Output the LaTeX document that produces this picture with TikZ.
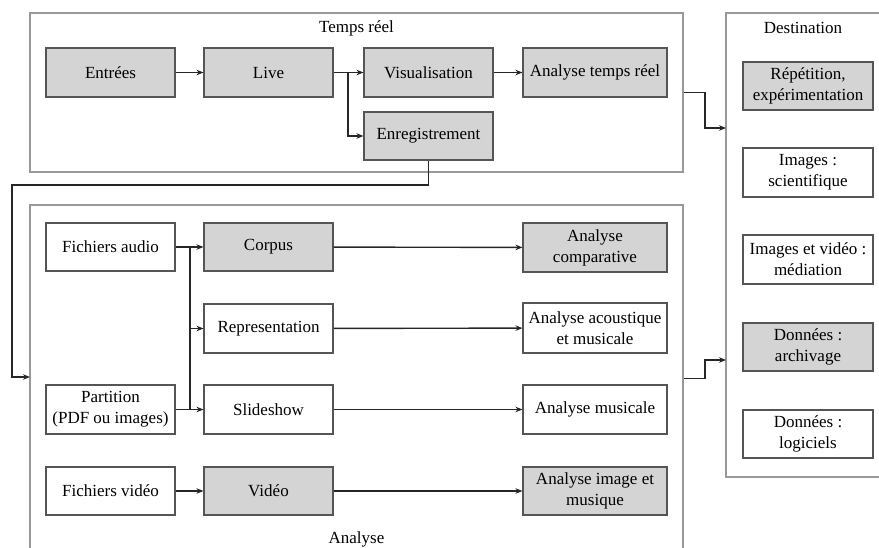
\documentclass[tikz,border=0pt]{standalone}
\usepackage{fontspec}
\setmainfont{Liberation Serif}
\newfontfamily\diagfont{Liberation Serif}
\usetikzlibrary{arrows.meta}
\definecolor{boxfill}{HTML}{D4D4D4}
\definecolor{boxline}{HTML}{555555}
\definecolor{frameline}{HTML}{999999}
\tikzset{
  every node/.style={font=\diagfont\fontsize{17}{21}\selectfont},
  box/.style={draw=boxline, line width=1.1pt, rectangle, align=center, inner sep=0pt},
  wbox/.style={box, fill=white},
  gbox/.style={box, fill=boxfill},
  frm/.style={draw=frameline, line width=1.1pt, rectangle, inner sep=0pt},
  conn/.style={draw=black!85, line width=1.4pt},
  arr/.style={conn, -{Stealth[length=7pt,width=5.5pt]}},
}
\begin{document}
\begin{tikzpicture}[x=1pt,y=-1pt]
\useasboundingbox (0,0) rectangle (879,547);
% frames
\node[frm, minimum width=653, minimum height=159] (trframe) at (356.5,92.5) {};
\node[frm, minimum width=653, minimum height=347] (anframe) at (356.5,378.5) {};
\node[frm, minimum width=164, minimum height=464] (dframe) at (808,245) {};
\node (trtitle) at (356.5,28) {Temps réel};
\node (antitle) at (356.5,539) {Analyse};
\node (dtitle) at (803,28) {Destination};
% Temps reel
\node[gbox, minimum width=129, minimum height=49] (entrees) at (110.5,72.5) {Entrées};
\node[gbox, minimum width=129, minimum height=49] (live) at (268.5,72.5) {Live};
\node[gbox, minimum width=129, minimum height=49] (visu) at (428.5,72.5) {Visualisation};
\node[gbox, minimum width=144, minimum height=49] (atr) at (595,72.5) {Analyse temps réel};
\node[gbox, minimum width=129, minimum height=48] (enreg) at (428.5,136) {Enregistrement};
% Analyse
\node[wbox, minimum width=129, minimum height=48] (faudio) at (110.5,247) {Fichiers audio};
\node[gbox, minimum width=129, minimum height=48] (corpus) at (268.5,247) {Corpus};
\node[gbox, minimum width=144, minimum height=49] (acomp) at (595,247.5) {Analyse\\comparative};
\node[wbox, minimum width=129, minimum height=49] (repr) at (268.5,328.5) {Representation};
\node[wbox, minimum width=144, minimum height=50] (aacou) at (595,328) {Analyse acoustique\\et musicale};
\node[wbox, minimum width=129, minimum height=49] (part) at (110.5,409.5) {Partition\\(PDF ou images)};
\node[wbox, minimum width=129, minimum height=49] (slide) at (268.5,409.5) {Slideshow};
\node[wbox, minimum width=144, minimum height=49] (amus) at (595,409.5) {Analyse musicale};
\node[wbox, minimum width=129, minimum height=48] (fvideo) at (110.5,491) {Fichiers vidéo};
\node[gbox, minimum width=129, minimum height=48] (video) at (268.5,491) {Vidéo};
\node[gbox, minimum width=144, minimum height=48] (aimg) at (595,491) {Analyse image et\\musique};
% Destination
\node[gbox, minimum width=130, minimum height=48] (rep) at (808,86) {Répétition,\\expérimentation};
\node[wbox, minimum width=130, minimum height=49] (isci) at (808,172.5) {Images :\\scientifique};
\node[wbox, minimum width=130, minimum height=49] (imed) at (808,259.5) {Images et vidéo :\\médiation};
\node[gbox, minimum width=130, minimum height=48] (darch) at (808,347) {Données :\\archivage};
\node[wbox, minimum width=130, minimum height=48] (dlog) at (808,434) {Données :\\logiciels};
% coordinates
\coordinate (destA) at (726,128);
\coordinate (destB) at (726,360);
\coordinate (anL) at (30,377);
\coordinate (brA) at (348,136);
\coordinate (brB) at (190,247);
\coordinate (brC) at (190,328.5);
\coordinate (brD) at (190,409.5);
% connectors temps reel
\draw[arr] (entrees) -- (live);
\draw[arr] (live) -- (visu);
\draw[arr] (visu) -- (atr);
\draw[arr] (live.east) -| (brA) -- (enreg.west);
\draw[arr] (trframe.east) -| (705,128) -- (destA);
\draw[arr] (enreg.south) |- (12,185) |- (anL);
% analyse
\draw[arr] (faudio) -- (corpus);
\draw[conn] (brB) -- (brD);
\draw[arr] (brC) -- (repr.west);
\draw[arr] (part) -- (slide);
\draw[arr] (corpus) -- (acomp);
\draw[arr] (repr) -- (aacou);
\draw[arr] (slide) -- (amus);
\draw[arr] (fvideo) -- (video);
\draw[arr] (video) -- (aimg);
\draw[arr] (anframe.east) -| (705,360) -- (destB);
\end{tikzpicture}
\end{document}
